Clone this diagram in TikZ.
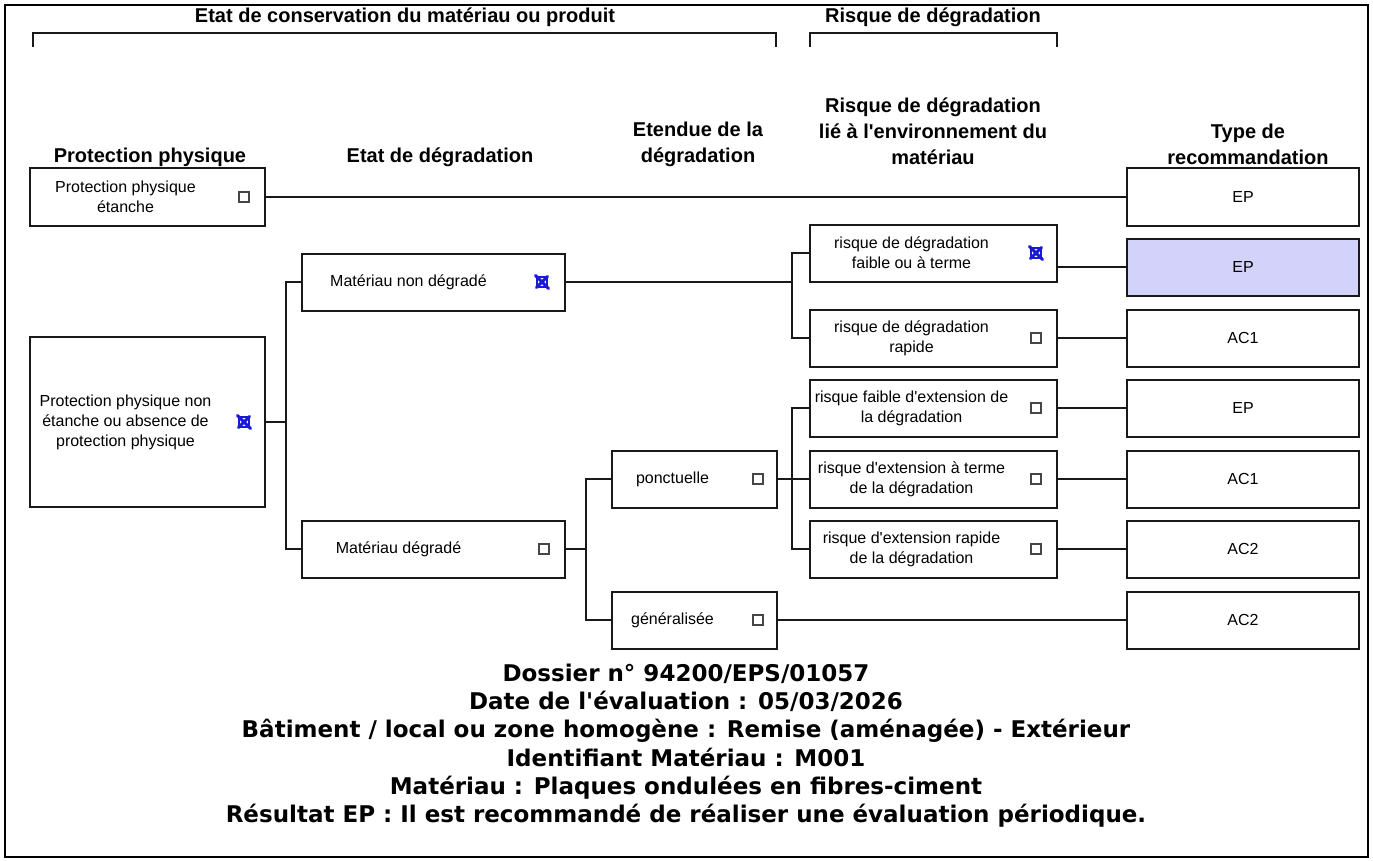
\documentclass[tikz,border=0pt]{standalone}
\usepackage{fontspec}
\setmainfont{Liberation Sans}
\newfontfamily\infofont{DejaVu Sans}

\definecolor{linec}{RGB}{25,25,25}
\definecolor{chkgray}{RGB}{70,70,70}
\definecolor{chkblue}{RGB}{25,25,215}
\definecolor{shadeep}{RGB}{210,210,250}

\tikzset{
	frame/.style={draw=black, line width=2.5pt},
	brace/.style={draw=linec, line width=2pt},
	head/.style={align=center, inner sep=0pt, font=\fontsize{20}{26}\selectfont\bfseries},
	box/.style={draw=linec, line width=2pt, minimum height=57pt, inner sep=0pt},
	res/.style={box, minimum width=232pt, font=\fontsize{16}{20}\selectfont},
	boxtext/.style={align=center, inner sep=0pt, font=\fontsize{16}{20}\selectfont},
	chkoff/.style={draw=chkgray, line width=1.4pt, minimum size=10pt, inner sep=0pt},
	chkon/.style={draw=chkblue, line width=1.2pt, minimum size=10pt, inner sep=0pt},
	xmark/.style={draw=chkblue, line width=3pt, line cap=round, shorten <=-1.5pt, shorten >=-1.5pt},
	wire/.style={draw=linec, line width=2pt},
}

\begin{document}
\begin{tikzpicture}[x=1pt,y=-1pt]
	\useasboundingbox (0,0) rectangle (1373,860);
	\draw[frame] (5,5) rectangle (1368,857);
	
	% titres du haut
	\node[head] (tcons) at (405,17) {Etat de conservation du matériau ou produit};
	\node[head] (trisk) at (933,17) {Risque de dégradation};
	\draw[brace] (33,47) -- (33,33) -- (776,33) -- (776,47);
	\draw[brace] (810,47) -- (810,33) -- (1057,33) -- (1057,47);
	
	% en-tetes des colonnes
	\node[head] (hprot) at (150,157) {Protection physique};
	\node[head] (hetat) at (440,157) {Etat de dégradation};
	\node[head] (hext) at (698,144) {Etendue de la\\dégradation};
	\node[head] (hrisk) at (933,131) {Risque de dégradation\\lié à l\textquotesingle environnement du\\matériau};
	\node[head] (htype) at (1248,144) {Type de\\recommandation};
	
	% protection physique
	\node[box, minimum width=235pt, minimum height=58pt] (pp1) at (147.5,197) {};
	\node[boxtext] (pp1t) at ([xshift=-22pt]pp1.center) {Protection physique\\étanche};
	\node[chkoff] (pp1c) at ([xshift=-22pt]pp1.east) {};
	\node[box, minimum width=235pt, minimum height=170pt] (pp2) at (147.5,422) {};
	\node[boxtext] (pp2t) at ([xshift=-22pt]pp2.center) {Protection physique non\\étanche ou absence de\\protection physique};
	\node[chkon] (pp2c) at ([xshift=-22pt]pp2.east) {};
	
	% etat de degradation
	\node[box, minimum width=263pt] (nd) at (433.5,282) {};
	\node[boxtext] (ndt) at ([xshift=-25pt]nd.center) {Matériau non dégradé};
	\node[chkon] (ndc) at ([xshift=-24pt]nd.east) {};
	\node[box, minimum width=263pt] (dg) at (433.5,549) {};
	\node[boxtext] (dgt) at ([xshift=-35pt]dg.center) {Matériau dégradé};
	\node[chkoff] (dgc) at ([xshift=-22pt]dg.east) {};
	
	% etendue
	\node[box, minimum width=165pt] (po) at (694.5,479) {};
	\node[boxtext] (pot) at ([xshift=-22pt]po.center) {ponctuelle};
	\node[chkoff] (poc) at ([xshift=-20pt]po.east) {};
	\node[box, minimum width=165pt] (ge) at (694.5,620) {};
	\node[boxtext] (get) at ([xshift=-22pt]ge.center) {généralisée};
	\node[chkoff] (gec) at ([xshift=-20pt]ge.east) {};
	
	% risque
	\node[box, minimum width=247pt] (rf) at (933.5,253) {};
	\node[boxtext] (rft) at ([xshift=-22pt]rf.center) {risque de dégradation\\faible ou à terme};
	\node[chkon] (rfc) at ([xshift=-22pt]rf.east) {};
	\node[box, minimum width=247pt] (rr) at (933.5,338) {};
	\node[boxtext] (rrt) at ([xshift=-22pt]rr.center) {risque de dégradation\\rapide};
	\node[chkoff] (rrc) at ([xshift=-22pt]rr.east) {};
	\node[box, minimum width=247pt] (ef) at (933.5,408) {};
	\node[boxtext] (eft) at ([xshift=-22pt]ef.center) {risque faible d\textquotesingle extension de\\la dégradation};
	\node[chkoff] (efc) at ([xshift=-22pt]ef.east) {};
	\node[box, minimum width=247pt] (et) at (933.5,479) {};
	\node[boxtext] (ett) at ([xshift=-22pt]et.center) {risque d\textquotesingle extension à terme\\de la dégradation};
	\node[chkoff] (etc) at ([xshift=-22pt]et.east) {};
	\node[box, minimum width=247pt] (er) at (933.5,549) {};
	\node[boxtext] (ert) at ([xshift=-22pt]er.center) {risque d\textquotesingle extension rapide\\de la dégradation};
	\node[chkoff] (erc) at ([xshift=-22pt]er.east) {};
	
	% croix des cases cochees
	\draw[xmark] (pp2c.south west) -- (pp2c.north east) (pp2c.north west) -- (pp2c.south east);
	\draw[xmark] (ndc.south west) -- (ndc.north east) (ndc.north west) -- (ndc.south east);
	\draw[xmark] (rfc.south west) -- (rfc.north east) (rfc.north west) -- (rfc.south east);
	
	% recommandations
	\node[res, minimum height=58pt] (r1) at (1243,197) {EP};
	\node[res, fill=shadeep] (r2) at (1243,267) {EP};
	\node[res] (r3) at (1243,338) {AC1};
	\node[res] (r4) at (1243,408) {EP};
	\node[res] (r5) at (1243,479) {AC1};
	\node[res] (r6) at (1243,549) {AC2};
	\node[res] (r7) at (1243,620) {AC2};
	
	% liaisons
	\coordinate (j1) at ([xshift=20pt]pp2.east);
	\coordinate (j2) at ([xshift=-17pt]rf.west |- nd.east);
	\coordinate (j3) at ([xshift=20pt]dg.east);
	\coordinate (j4) at ([xshift=-17pt]et.west);
	\draw[wire] (pp1.east) -- (r1.west);
	\draw[wire] (pp2.east) -- (j1);
	\draw[wire] (nd.west) -| (j1) |- (dg.west);
	\draw[wire] (nd.east) -- (j2);
	\draw[wire] (rf.west) -| (j2) |- (rr.west);
	\draw[wire] (rf.east |- r2.west) -- (r2.west);
	\draw[wire] (rr.east) -- (r3.west);
	\draw[wire] (dg.east) -- (j3);
	\draw[wire] (po.west) -| (j3) |- (ge.west);
	\draw[wire] (po.east) -- (et.west);
	\draw[wire] (ef.west) -| (j4) |- (er.west);
	\draw[wire] (ef.east) -- (r4.west);
	\draw[wire] (et.east) -- (r5.west);
	\draw[wire] (er.east) -- (r6.west);
	\draw[wire] (ge.east) -- (r7.west);
	
	% bloc d'information
	\node[align=center, inner sep=0pt, font=\infofont\bfseries\fontsize{23}{28.3}\selectfont] (info) at (686,745.5)
	{Dossier n° 94200/EPS/01057\\
	 Date de l\textquotesingle évaluation : 05/03/2026\\
	 Bâtiment / local ou zone homogène : Remise (aménagée) - Extérieur\\
	 Identifiant Matériau : M001\\
	 Matériau : Plaques ondulées en fibres-ciment\\
	 Résultat EP : Il est recommandé de réaliser une évaluation périodique.};
\end{tikzpicture}
\end{document}
